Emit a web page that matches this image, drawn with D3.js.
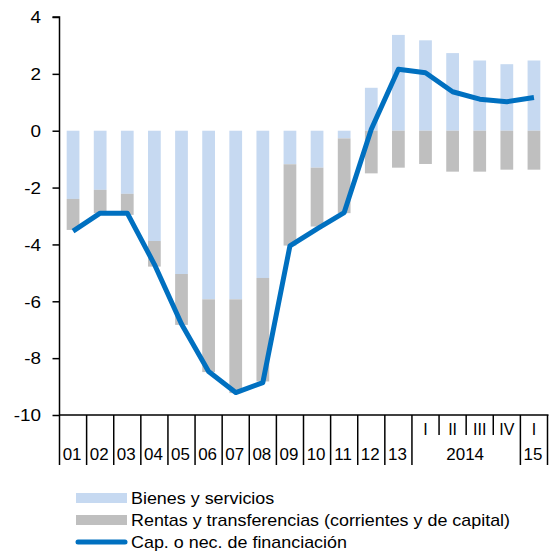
<!DOCTYPE html>
<html>
<head>
<meta charset="utf-8">
<script src="https://cdn.jsdelivr.net/npm/d3@7"></script>
<style>
	body { margin: 0; background: #fff; }
	svg text { font-family: "Liberation Sans", Arial, sans-serif; font-size: 16px; fill: #000; }
</style>
</head>
<body>
<div id="chart"></div>
<script>
	// categories: years 2001-2013, quarters 2014, Q1 2015
	var categories = ['01','02','03','04','05','06','07','08','09','10','11','12','13','14I','14II','14III','14IV','15I'];
	var bienes = [-2.40, -2.08, -2.22, -3.88, -5.04, -5.93, -5.93, -5.18, -1.18, -1.30, -0.27, 1.51, 3.37, 3.18, 2.73, 2.47, 2.34, 2.47];
	var rentas = [-1.09, -0.82, -0.74, -0.90, -1.79, -2.56, -3.30, -3.64, -2.86, -2.07, -2.63, -1.50, -1.30, -1.17, -1.44, -1.44, -1.37, -1.37];
	var capNec = [-3.53, -2.90, -2.90, -4.70, -6.80, -8.47, -9.21, -8.86, -4.05, -3.45, -2.88, 0.05, 2.16, 2.04, 1.37, 1.11, 1.02, 1.17];
	var yTicks = [4, 2, 0, -2, -4, -6, -8, -10];
	var quarterLabels = ['', '', '', '', '', '', '', '', '', '', '', '', '', 'I', 'II', 'III', 'IV', 'I'];
	var yearLabels = [
		{ label: '01', from: 0, to: 0 }, { label: '02', from: 1, to: 1 }, { label: '03', from: 2, to: 2 },
		{ label: '04', from: 3, to: 3 }, { label: '05', from: 4, to: 4 }, { label: '06', from: 5, to: 5 },
		{ label: '07', from: 6, to: 6 }, { label: '08', from: 7, to: 7 }, { label: '09', from: 8, to: 8 },
		{ label: '10', from: 9, to: 9 }, { label: '11', from: 10, to: 10 }, { label: '12', from: 11, to: 11 },
		{ label: '13', from: 12, to: 12 }, { label: '2014', from: 13, to: 16 }, { label: '15', from: 17, to: 17 }
	];
	var legendItems = ['Bienes y servicios', 'Rentas y transferencias (corrientes y de capital)', 'Cap. o nec. de financiación'];

	var colBienes = '#c6d9f1', colRentas = '#bfbfbf', colLine = '#0070c0';

	var width = 549, height = 551;
	var m = { left: 59.5, right: 547.5, top: 17, bottom: 415 };

	var svg = d3.select('#chart').append('svg')
		.attr('width', width)
		.attr('height', height);

	var x = d3.scaleBand().domain(categories).range([m.left, m.right]).padding(0);
	var y = d3.scaleLinear().domain([-10, 4]).range([m.bottom, m.top]);
	var barW = x.bandwidth() * 0.47;

	// stacked bars: bienes from 0, rentas stacked below bienes if negative, else from 0
	var g = svg.append('g');
	g.selectAll('rect.bienes')
		.data(categories)
		.enter().append('rect')
		.attr('class', 'bienes')
		.attr('x', function(d) { return x(d) + (x.bandwidth() - barW) / 2; })
		.attr('width', barW)
		.attr('y', function(d, i) { return y(Math.max(0, bienes[i])); })
		.attr('height', function(d, i) { return Math.abs(y(bienes[i]) - y(0)); })
		.style('fill', colBienes);

	g.selectAll('rect.rentas')
		.data(categories)
		.enter().append('rect')
		.attr('class', 'rentas')
		.attr('x', function(d) { return x(d) + (x.bandwidth() - barW) / 2; })
		.attr('width', barW)
		.attr('y', function(d, i) {
			var base = bienes[i] < 0 ? bienes[i] : 0;
			return y(base);
		})
		.attr('height', function(d, i) { return Math.abs(y(0) - y(rentas[i])); })
		.style('fill', colRentas);

	// y axis (plain hyphen for negatives, like the original)
	var yAxis = svg.append('g')
		.attr('transform', 'translate(' + m.left + ',0)')
		.call(d3.axisLeft(y).tickValues(yTicks).tickSize(7).tickPadding(0).tickFormat(function(d) { return String(d); }));
	yAxis.select('.domain').attr('d', 'M-7,' + m.top + 'H0V' + m.bottom).attr('stroke-width', 1.5);
	yAxis.selectAll('.tick line').attr('stroke-width', 1.5);
	yAxis.selectAll('.tick text')
		.attr('x', 0)
		.attr('dy', '0.36em')
		.attr('transform', 'translate(-18.5,0) scale(1.18,1)')
		.style('font-size', '16px');

	// x axis: baseline plus category separators
	var xg = svg.append('g');
	xg.append('line')
		.attr('x1', m.left).attr('x2', m.right + 1)
		.attr('y1', m.bottom).attr('y2', m.bottom)
		.attr('stroke', '#000').attr('stroke-width', 1.5);

	var bounds = d3.range(categories.length + 1);
	xg.selectAll('line.sep')
		.data(bounds)
		.enter().append('line')
		.attr('class', 'sep')
		.attr('x1', function(i) { return m.left + i * x.step(); })
		.attr('x2', function(i) { return m.left + i * x.step(); })
		.attr('y1', m.bottom)
		.attr('y2', function(i) { return (i >= 14 && i <= 16) ? 435 : 465; })
		.attr('stroke', '#000').attr('stroke-width', 1.5);

	xg.selectAll('text.q')
		.data(categories)
		.enter().append('text')
		.attr('class', 'q')
		.attr('x', function(d) { return x(d) + x.bandwidth() / 2; })
		.attr('y', 435)
		.attr('text-anchor', 'middle')
		.text(function(d, i) { return quarterLabels[i]; });

	xg.selectAll('text.yr')
		.data(yearLabels)
		.enter().append('text')
		.attr('class', 'yr')
		.attr('text-anchor', 'middle')
		.attr('transform', function(d) {
			var cx = (x(categories[d.from]) + x(categories[d.to]) + x.bandwidth()) / 2 - 1;
			return 'translate(' + cx + ',460) scale(1.06,1)';
		})
		.text(function(d) { return d.label; });

	// line
	var line = d3.line()
		.x(function(d, i) { return x(categories[i]) + x.bandwidth() / 2; })
		.y(function(d) { return y(d); });

	svg.append('path')
		.datum(capNec)
		.attr('d', line)
		.attr('fill', 'none')
		.attr('stroke', colLine)
		.attr('stroke-width', 5)
		.attr('stroke-linejoin', 'round');

	// legend
	var leg = svg.append('g');
	var legY = [498, 520, 542];
	leg.append('rect').attr('x', 76).attr('y', legY[0] - 5).attr('width', 51).attr('height', 10).style('fill', colBienes);
	leg.append('rect').attr('x', 76).attr('y', legY[1] - 5).attr('width', 51).attr('height', 10).style('fill', colRentas);
	leg.append('line').attr('x1', 78).attr('x2', 125).attr('y1', legY[2]).attr('y2', legY[2])
		.attr('stroke', colLine).attr('stroke-width', 5).attr('stroke-linecap', 'round');
	leg.selectAll('text')
		.data(legendItems)
		.enter().append('text')
		.attr('x', 0)
		.attr('y', 0)
		.attr('dy', '0.36em')
		.attr('transform', function(d, i) { return 'translate(131,' + legY[i] + ') scale(1.12,1)'; })
		.text(function(d) { return d; });
</script>
</body>
</html>
